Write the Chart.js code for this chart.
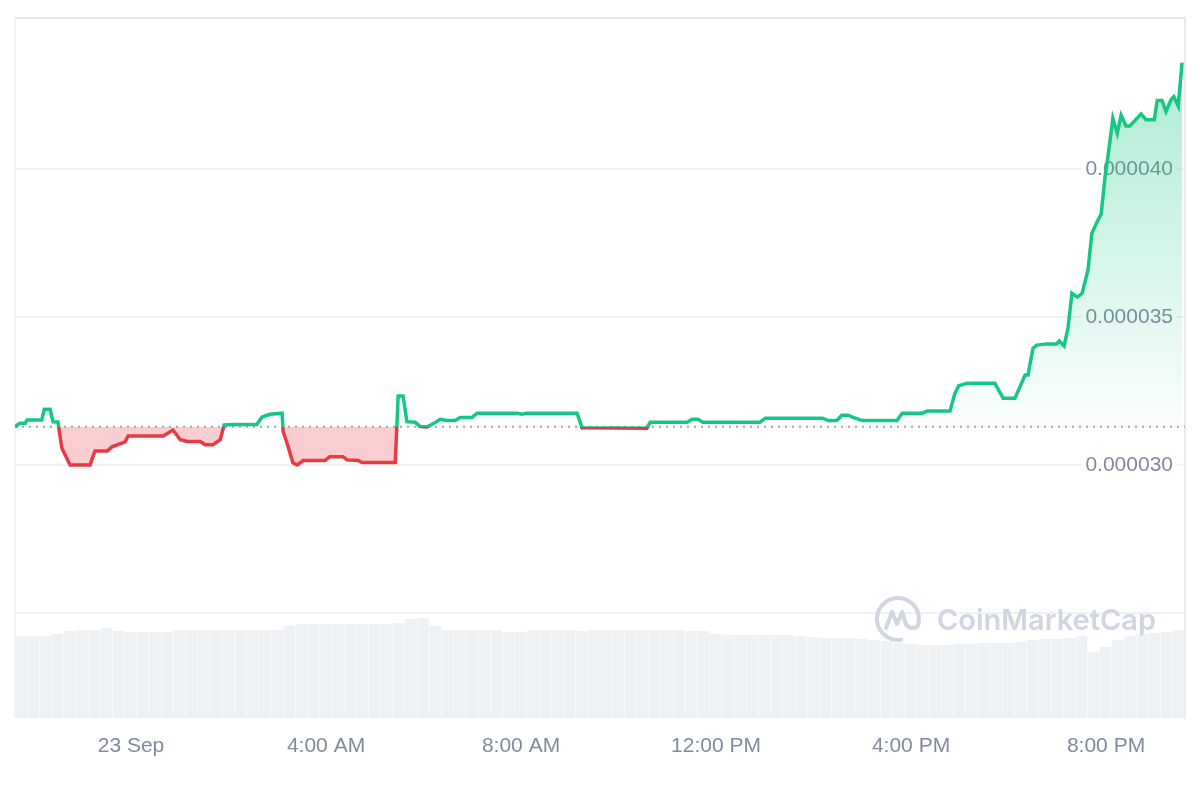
<!DOCTYPE html>
<html>
<head>
<meta charset="utf-8">
<title>Price chart</title>
<script src="https://cdn.jsdelivr.net/npm/chart.js@4.4.1/dist/chart.umd.min.js"></script>
<style>
  html, body { margin: 0; padding: 0; background: #fff; }
  #wrap { width: 1200px; height: 800px; }
</style>
</head>
<body>
<div id="wrap"><canvas id="priceChart" width="1200" height="800"></canvas></div>
<script>
// Hours relative to 23 Sep 00:00 (negative = evening of 22 Sep)
const priceHours = [
    -2.38, -2.28, -2.17, -2.13, -1.83, -1.78, -1.66, -1.60, -1.50, -1.42,
    -1.25, -0.84, -0.74, -0.49, -0.39, -0.23, -0.12, -0.06, 0.66, 0.86,
    1.01, 1.15, 1.42, 1.52, 1.68, 1.83, 1.91, 2.09, 2.58, 2.69,
    2.85, 3.10, 3.12, 3.20, 3.32, 3.41, 3.53, 3.98, 4.08, 4.35,
    4.43, 4.66, 4.74, 5.42, 5.48, 5.58, 5.66, 5.83, 5.93, 6.07,
    6.24, 6.34, 6.48, 6.65, 6.75, 6.99, 7.10, 7.92, 8.02, 8.12,
    9.15, 9.25, 10.58, 10.65, 11.41, 11.51, 11.63, 11.73, 12.90, 13.01,
    14.19, 14.30, 14.48, 14.58, 14.71, 14.81, 15.00, 15.71, 15.82, 16.23,
    16.33, 16.80, 16.90, 16.98, 17.15, 17.72, 17.89, 18.13, 18.34, 18.40,
    18.50, 18.58, 18.79, 18.99, 19.04, 19.14, 19.22, 19.30, 19.41, 19.51,
    19.63, 19.71, 19.82, 19.90, 19.98, 20.04, 20.14, 20.23, 20.31, 20.41,
    20.49, 20.72, 20.82, 20.99, 21.05, 21.15, 21.23, 21.33, 21.39, 21.48, 21.56
];
const priceValues = [
    0.00003129, 0.00003141, 0.00003141, 0.00003152, 0.00003152, 0.00003188, 0.00003188, 0.00003146, 0.00003145, 0.00003057,
    0.00003000, 0.00003000, 0.00003047, 0.00003047, 0.00003061, 0.00003071, 0.00003078, 0.00003098, 0.00003098, 0.00003118,
    0.00003085, 0.00003079, 0.00003079, 0.00003068, 0.00003068, 0.00003085, 0.00003135, 0.00003137, 0.00003137, 0.00003162,
    0.00003171, 0.00003175, 0.00003113, 0.00003074, 0.00003007, 0.00003000, 0.00003015, 0.00003015, 0.00003028, 0.00003028,
    0.00003017, 0.00003015, 0.00003008, 0.00003008, 0.00003233, 0.00003233, 0.00003146, 0.00003144, 0.00003130, 0.00003128,
    0.00003143, 0.00003154, 0.00003150, 0.00003150, 0.00003160, 0.00003160, 0.00003175, 0.00003175, 0.00003171, 0.00003175,
    0.00003175, 0.00003126, 0.00003124, 0.00003144, 0.00003144, 0.00003154, 0.00003154, 0.00003144, 0.00003144, 0.00003158,
    0.00003158, 0.00003150, 0.00003150, 0.00003168, 0.00003168, 0.00003161, 0.00003150, 0.00003150, 0.00003175, 0.00003175,
    0.00003182, 0.00003182, 0.00003242, 0.00003268, 0.00003276, 0.00003276, 0.00003225, 0.00003225, 0.00003304, 0.00003304,
    0.00003394, 0.00003405, 0.00003409, 0.00003409, 0.00003419, 0.00003402, 0.00003462, 0.00003580, 0.00003567, 0.00003580,
    0.00003659, 0.00003783, 0.00003822, 0.00003848, 0.00003974, 0.00004042, 0.00004171, 0.00004121, 0.00004182, 0.00004145,
    0.00004145, 0.00004186, 0.00004166, 0.00004166, 0.00004231, 0.00004231, 0.00004194, 0.00004233, 0.00004244, 0.00004213, 0.00004359
];
const baselinePrice = 0.00003129; // opening price of the period

// Volume bars, one per 15 minutes
const volumeStartHour = -2.255;
const volumeStepHours = 0.25;
const volumeValues = [
    82, 82, 82, 84, 87, 88, 88, 90, 87, 86,
    86, 86, 86, 88, 88, 88, 88, 88, 88, 88,
    88, 88, 92, 94, 94, 94, 94, 94, 94, 94,
    94, 95, 99, 100, 92, 88, 88, 88, 88, 88,
    86, 86, 88, 88, 88, 88, 87, 88, 88, 88,
    88, 88, 88, 88, 88, 87, 87, 84, 83, 83,
    83, 83, 83, 83, 82, 81, 80, 80, 80, 79,
    78, 77, 75, 74, 73, 73, 73, 74, 74, 75,
    75, 75, 76, 78, 79, 79, 80, 82, 66, 71,
    78, 82, 84, 85, 86, 88
];
const volumeAxisMax = 700;

const hourRange = [-2.38, 21.62];
const priceRange = [0.00002145, 0.0000451];
const xTickHours = [0, 4, 8, 12, 16, 20];
const xTickLabels = ['23 Sep', '4:00 AM', '8:00 AM', '12:00 PM', '4:00 PM', '8:00 PM'];
const yTickValues = [0.000025, 0.00003, 0.000035, 0.00004];
const yTickLabels = ['', '0.000030', '0.000035', '0.000040'];

const UP_COLOR = '#16c784';
const DOWN_COLOR = '#ea3943';
const LABEL_COLOR = '#808a9d';
const LABEL_FONT = { family: '"Liberation Sans", Arial, Helvetica, sans-serif', size: 21 };

// Green above the opening price, red below it
function lineGradient(chart) {
    const { ctx, chartArea, scales } = chart;
    if (!chartArea) return UP_COLOR;
    const base = scales.y.getPixelForValue(baselinePrice);
    let stop = (base - chartArea.top) / (chartArea.bottom - chartArea.top);
    stop = Math.min(Math.max(stop, 0), 1);
    const g = ctx.createLinearGradient(0, chartArea.top, 0, chartArea.bottom);
    g.addColorStop(0, UP_COLOR);
    g.addColorStop(stop, UP_COLOR);
    g.addColorStop(stop, DOWN_COLOR);
    g.addColorStop(1, DOWN_COLOR);
    return g;
}

function fillGradient(chart) {
    const { ctx, chartArea, scales } = chart;
    if (!chartArea) return 'rgba(22, 199, 132, 0.1)';
    const base = scales.y.getPixelForValue(baselinePrice);
    const g = ctx.createLinearGradient(0, chartArea.top, 0, base);
    g.addColorStop(0, 'rgba(22, 199, 132, 0.40)');
    g.addColorStop(1, 'rgba(22, 199, 132, 0.02)');
    return g;
}

// Light frame round the plot area (top and left; right is the y border)
const framePlugin = {
    id: 'frame',
    beforeDatasetsDraw(chart) {
        const { ctx, chartArea: a } = chart;
        ctx.save();
        ctx.lineWidth = 2;
        ctx.strokeStyle = '#e5e7ea';
        ctx.beginPath();
        ctx.moveTo(a.left, a.top);
        ctx.lineTo(a.right, a.top);
        ctx.stroke();
        ctx.strokeStyle = '#f0f1f3';
        ctx.beginPath();
        ctx.moveTo(a.left, a.top);
        ctx.lineTo(a.left, a.bottom);
        ctx.stroke();
        ctx.restore();
    }
};

// CoinMarketCap watermark
const watermarkPlugin = {
    id: 'watermark',
    afterDatasetsDraw(chart) {
        const { ctx, chartArea: a } = chart;
        const color = '#cfd5e1';
        ctx.save();
        ctx.fillStyle = color;
        ctx.font = '600 29px Inter, "Noto Sans", sans-serif';
        ctx.textBaseline = 'alphabetic';
        ctx.fillText('CoinMarketCap', a.right - 248, a.bottom - 88);

        const cx = a.right - 287, cy = a.bottom - 99, r = 21;
        ctx.strokeStyle = color;
        ctx.lineWidth = 4;
        ctx.lineCap = 'round';
        ctx.lineJoin = 'round';
        ctx.beginPath();
        ctx.arc(cx, cy, r, 0.45 * Math.PI, 2.1 * Math.PI);
        ctx.stroke();
        ctx.beginPath();
        ctx.moveTo(cx - 12, cy + 9);
        ctx.lineTo(cx - 6, cy - 7);
        ctx.lineTo(cx - 1, cy + 5);
        ctx.lineTo(cx + 4, cy - 7);
        ctx.lineTo(cx + 8, cy + 5);
        ctx.quadraticCurveTo(cx + 11, cy + 11, cx + 19, cy + 8);
        ctx.stroke();
        ctx.restore();
    }
};

const chart = new Chart(document.getElementById('priceChart'), {
    type: 'line',
    data: {
        datasets: [
            {
                label: 'Price',
                data: priceHours.map((h, i) => ({ x: h, y: priceValues[i] })),
                borderColor: ctx => lineGradient(ctx.chart),
                backgroundColor: ctx => fillGradient(ctx.chart),
                fill: { target: { value: baselinePrice }, below: 'rgba(234, 57, 67, 0.25)' },
                borderWidth: 3.5,
                pointRadius: 0,
                tension: 0,
                yAxisID: 'y',
                order: 0
            },
            {
                label: 'Open',
                data: [{ x: hourRange[0], y: baselinePrice }, { x: hourRange[1], y: baselinePrice }],
                borderColor: '#9ea6b5',
                borderWidth: 2,
                borderDash: [2, 5],
                pointRadius: 0,
                fill: false,
                yAxisID: 'y',
                order: 1
            },
            {
                type: 'bar',
                label: 'Volume',
                data: volumeValues.map((v, i) => ({ x: volumeStartHour + i * volumeStepHours, y: v })),
                backgroundColor: '#eff2f5',
                borderWidth: 0,
                barPercentage: 0.96,
                categoryPercentage: 1,
                yAxisID: 'y2',
                order: 2
            }
        ]
    },
    options: {
        responsive: false,
        animation: false,
        events: [],
        layout: { padding: { left: 15, right: 15, top: 18, bottom: 26 } },
        plugins: {
            legend: { display: false },
            tooltip: { enabled: false },
            filler: { drawTime: 'beforeDatasetsDraw' }
        },
        scales: {
            x: {
                type: 'linear',
                offset: false,
                min: hourRange[0],
                max: hourRange[1],
                grid: { display: false, drawTicks: false, offset: false },
                border: { display: false },
                afterBuildTicks: axis => { axis.ticks = xTickHours.map(v => ({ value: v })); },
                afterFit: axis => { axis.paddingLeft = 0; axis.paddingRight = 0; },
                ticks: {
                    autoSkip: false,
                    maxRotation: 0,
                    padding: 15.4,
                    color: LABEL_COLOR,
                    font: LABEL_FONT,
                    callback: (value, index) => xTickLabels[index]
                }
            },
            y: {
                type: 'linear',
                position: 'right',
                min: priceRange[0],
                max: priceRange[1],
                grid: { color: '#f0f1f4', lineWidth: 2, drawTicks: false },
                border: { display: true, color: '#e8e9ec', width: 2 },
                afterBuildTicks: axis => { axis.ticks = yTickValues.map(v => ({ value: v })); },
                afterFit: axis => { axis.width = 0; axis.paddingTop = 0; axis.paddingBottom = 0; },
                ticks: {
                    mirror: true,
                    padding: -12,
                    color: LABEL_COLOR,
                    font: LABEL_FONT,
                    showLabelBackdrop: true,
                    backdropColor: ctx => (ctx.index === 0 ? 'rgba(255,255,255,0)' : '#ffffff'),
                    backdropPadding: { x: 4, y: 2 },
                    callback: (value, index) => yTickLabels[index]
                }
            },
            y2: {
                display: false,
                min: 0,
                max: volumeAxisMax
            }
        }
    },
    plugins: [framePlugin, watermarkPlugin]
});
</script>
</body>
</html>
